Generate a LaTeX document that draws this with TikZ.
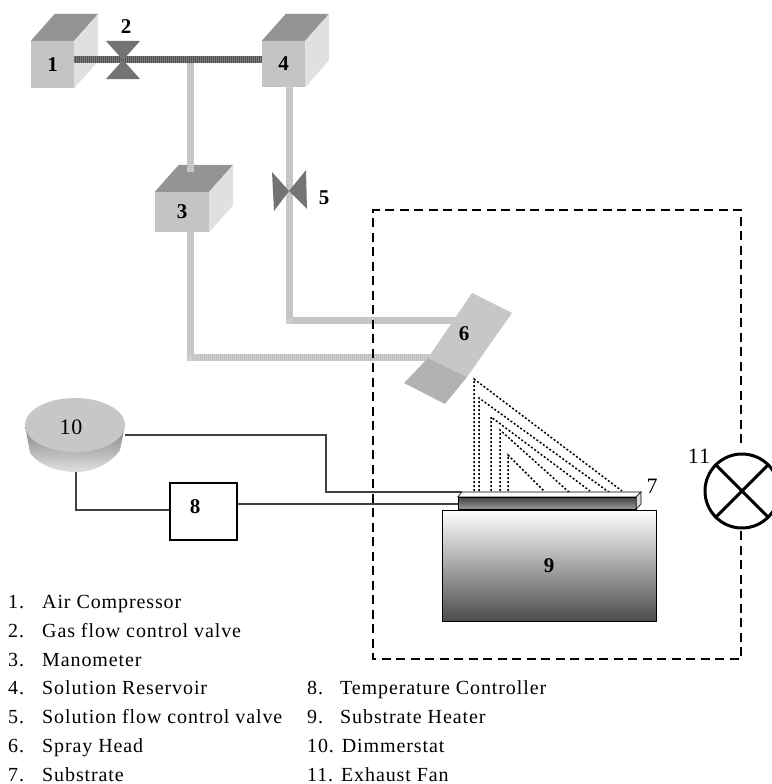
\documentclass[tikz,border=0pt]{standalone}
\usepackage{fontspec}
\setmainfont[LetterSpace=4.5]{Liberation Serif}
\usetikzlibrary{shapes.geometric, positioning, calc}

\definecolor{cubefront}{HTML}{C4C4C4}
\definecolor{cubetop}{HTML}{949494}
\definecolor{cubeside}{HTML}{E0E0E0}
\definecolor{pipedark}{HTML}{505050}
\definecolor{pipelight}{HTML}{BEBEBE}

\begin{document}
\begin{tikzpicture}[
    x=1pt, y=-1pt,
    every node/.style={font=\fontsize{20}{22}\selectfont},
    cube/.style={rectangle, fill=cubefront, inner sep=0pt, font=\fontsize{21}{24}\selectfont\bfseries},
    num/.style={inner sep=0pt, font=\fontsize{21}{24}\selectfont\bfseries},
    thinnum/.style={inner sep=0pt, font=\fontsize{22}{24}\selectfont},
    pipe/.style={line width=7pt, draw=#1, postaction={draw=white, line width=7pt, dash pattern=on 1pt off 1pt, opacity=0.25}},
    wire/.style={draw=black!75, line width=1.2pt},
    spray/.style={line width=1.5pt, dash pattern=on 2pt off 2pt},
    legend/.style={inner sep=0pt, anchor=base west}
]
\useasboundingbox (0,0) rectangle (771,784);

% Boxes
\node (compressor) [cube, minimum width=43pt, minimum height=47pt] at (52.5,64.5) {1};
\node (reservoir) [cube, minimum width=43pt, minimum height=46pt] at (283.5,64) {4};
\node (manometer) [cube, minimum width=54pt, minimum height=40pt] at (182,212) {3};

\foreach \boxname in {compressor, reservoir, manometer} {
    \fill [cubetop] (\boxname.north west) -- ++(24,-27) -- ($(\boxname.north east)+(24,-27)$) -- (\boxname.north east) -- cycle;
    \fill [cubeside] (\boxname.north east) -- ++(24,-27) -- ($(\boxname.south east)+(24,-27)$) -- (\boxname.south east) -- cycle;
}

% Pipes
\coordinate (junction) at (190,60);
\coordinate (valvegas) at (123,60);
\coordinate (valvesol) at (289,191);
\coordinate (headin) at (456,320);
\coordinate (headlow) at (430,357);
\draw [pipe=pipelight] (junction) -- (190,172);
\draw [pipe=pipelight] (manometer.south -| junction) |- (headlow);
\draw [pipe=pipelight] (reservoir.south -| valvesol) |- (headin);
\draw [pipe=pipedark] (compressor.east |- junction) -- (reservoir.west |- junction);

% Valves
\fill [black!55] (valvegas) -- ++(-17,-19) -- ++(34,0) -- cycle;
\fill [black!55] (valvegas) -- ++(-17,19) -- ++(34,0) -- cycle;
\fill [black!55] (valvesol) -- (272,172) -- (274,211) -- cycle;
\fill [black!55] (valvesol) -- (306,170) -- (307,209) -- cycle;

% Spray head
\coordinate (headA) at (472,293);
\coordinate (headB) at (512,313);
\coordinate (headC) at (445,404);
\coordinate (headD) at (404,383);
\coordinate (headE) at (428,358);
\coordinate (headF) at (467,377);
\fill [black!22] (headA) -- (headB) -- (headF) -- (headE) -- cycle;
\fill [black!30] (headE) -- (headF) -- (headC) -- (headD) -- cycle;

% Spray cone
\foreach \topx/\topy/\footx/\footy in {474/379/622/491, 479/398/610/493, 491/417/590/491, 500/430/570/493, 508/455/544/491} {
    \draw [spray] (\topx,491) -- (\topx,\topy) -- (\footx,\footy);
}

% Heater and substrate
\node (heater) [rectangle, inner sep=0pt, minimum width=214pt, minimum height=111pt, top color=white, bottom color=black!70, draw=black, font=\fontsize{21}{24}\selectfont\bfseries] at (549,565.5) {9};
\node (substrate) [rectangle, inner sep=0pt, minimum width=178pt, minimum height=12pt, top color=black!75, bottom color=black!40, draw=black] at (547,503) {};
\filldraw [draw=black, fill=white, line width=0.6pt] (substrate.north west) -- (462,492) -- (641,492) -- (substrate.north east) -- cycle;
\filldraw [draw=black, fill=black!15, line width=0.6pt] (substrate.north east) -- (641,492) -- (641,504) -- (substrate.south east) -- cycle;

% Dimmerstat and controller
\coordinate (dimmerfoot) at (76,472);
\shade [top color=black!50, bottom color=black!12] (25,425) -- (30,453) .. controls (40,466) and (58,472) .. (dimmerfoot) .. controls (95,472) and (112,462) .. (120,450) -- (125,425) -- cycle;
\node (dimmer) [ellipse, inner sep=0pt, minimum width=100pt, minimum height=54pt, fill=black!22] at (75,425) {};
\node (controller) [rectangle, draw, line width=1.5pt, inner sep=0pt, minimum width=67pt, minimum height=57pt] at (203.5,511.5) {};

% Wires
\draw [wire] (dimmer.east |- 0,435) -| (326,492) -- (462,492);
\draw [wire] (controller.east |- 0,504) -- (substrate.west |- 0,504);
\draw [wire] (dimmerfoot) |- (controller.west |- 0,510);

% Exhaust
\node (fan) [circle, draw, line width=3pt, minimum size=74pt, inner sep=0pt] at (742,491) {};
\draw [line width=3pt] (fan.north west) -- (fan.south east);
\draw [line width=3pt] (fan.north east) -- (fan.south west);
\draw [line width=2.5pt, dash pattern=on 9pt off 5.5pt] (741,443) -- (741,210) -- (373,210) -- (373,659) -- (741,659) -- (741,530);

% Numbers
\node (n2) [num] at (126,27) {2};
\node (n5) [num] at (324,198) {5};
\node (n6) [num] at (464,334) {6};
\node (n7) [thinnum] at (652,486) {7};
\node (n8) [num] at (195,507) {8};
\node (n10) [thinnum] at (71,427) {10};
\node (n11) [thinnum] at (699,456) {11};

% Legend
\foreach \num/\label/\ypos in {1./Air Compressor/608, 2./Gas flow control valve/637, 3./Manometer/666, 4./Solution Reservoir/694, 5./Solution flow control valve/723, 6./Spray Head/752, 7./Substrate/781} {
    \node [legend] at (8,\ypos) {\num};
    \node [legend] at (42,\ypos) {\label};
}
\foreach \num/\label/\ypos in {8./Temperature Controller/694, 9./Substrate Heater/723} {
    \node [legend] at (307,\ypos) {\num};
    \node [legend] at (340,\ypos) {\label};
}
\foreach \label/\ypos in {10. Dimmerstat/752, 11. Exhaust Fan/781} {
    \node [legend] at (307,\ypos) {\label};
}
\end{tikzpicture}
\end{document}
